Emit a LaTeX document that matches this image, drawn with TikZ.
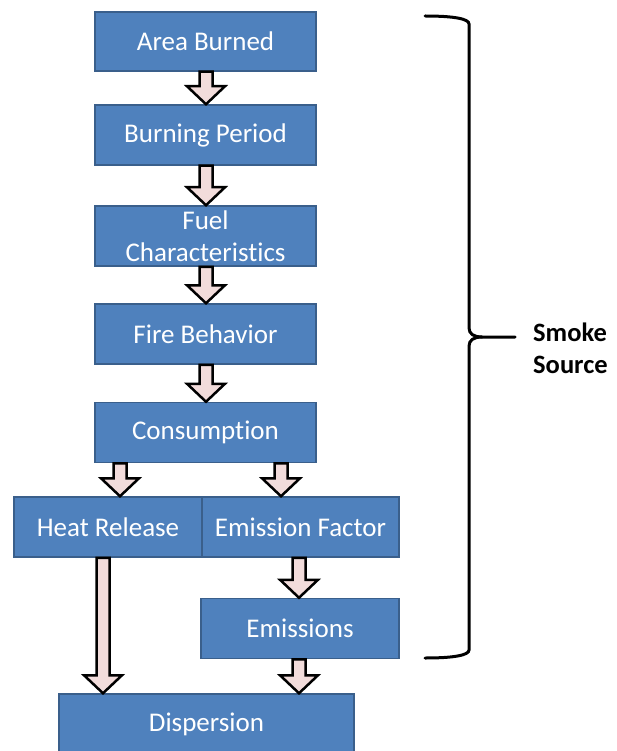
\documentclass[tikz,border=0pt]{standalone}
\usepackage{fontspec}
\setmainfont{Carlito}[Ligatures=NoCommon]
\usepackage{xcolor}
\usetikzlibrary{calc}

\definecolor{boxblue}{HTML}{4F81BD}
\definecolor{boxedge}{HTML}{3A5F8B}
\definecolor{arrowpink}{HTML}{F2DCDB}

% fat arrow: x position, from node, to node
\newcommand{\flowarrow}[3]{%
  \coordinate (top) at (#1,0 |- #2.south);
  \coordinate (tip) at (#1,0 |- #3.north);
  \draw[blockarr] ($(top)+(-6.5,0)$) -- ($(tip)+(-6.5,-18)$) -- ($(tip)+(-19,-18)$) -- (tip)
    -- ($(tip)+(19,-18)$) -- ($(tip)+(6.5,-18)$) -- ($(top)+(6.5,0)$) -- cycle;
}

\begin{document}
\begin{tikzpicture}[x=1pt,y=-1pt,
  stage/.style={draw=boxedge,line width=1.5pt,fill=boxblue,text=white,minimum height=60,
    inner sep=0pt,align=center,font=\fontsize{27}{32}\selectfont},
  blockarr/.style={draw=black,line width=2.5pt,fill=arrowpink,line join=miter},
  brace/.style={line width=3pt,line cap=round}]

\useasboundingbox (0,0) rectangle (617,751);
\clip (0,0) rectangle (617,751);

% source chain
\node[stage,minimum width=221,minimum height=59] (area) at (205.5,41.5) {Area Burned};
\node[stage,minimum width=221] (burn) at (205.5,135) {Burning Period};
\node[stage,minimum width=221] (fuel) at (205.5,236) {Fuel\\Characteristics};
\node[stage,minimum width=221] (fire) at (205.5,334) {Fire Behavior};
\node[stage,minimum width=221] (cons) at (205.5,432.5) {Consumption};

% split
\node[stage,minimum width=188] (heat) at (108,527) {Heat Release};
\node[stage,minimum width=197] (emfac) at (300.5,527) {Emission Factor};
\node[stage,minimum width=198] (emis) at (300,628.5) {Emissions};
\node[stage,minimum width=295] (disp) at (206.5,724) {Dispersion};

% arrows
\flowarrow{206}{area}{burn}
\flowarrow{206}{burn}{fuel}
\flowarrow{206}{fuel}{fire}
\flowarrow{206}{fire}{cons}
\flowarrow{120}{cons}{heat}
\flowarrow{281}{cons}{emfac}
\flowarrow{299}{emfac}{emis}
\flowarrow{103}{heat}{disp}
\flowarrow{299}{emis}{disp}

% brace
\draw[brace] (425,16) .. controls (455,16) and (469,19) .. (469,24) -- (469,328)
  .. controls (469,334) and (474,337) .. (482,337) -- (515,337);
\draw[brace] (482,337) .. controls (474,337) and (469,340) .. (469,346) -- (469,650)
  .. controls (469,655) and (455,658) .. (425,658);
\node[anchor=west,align=left,inner sep=0pt,font=\fontsize{26.5}{32}\selectfont\bfseries] (smoke) at (533,348) {Smoke\\Source};
\end{tikzpicture}
\end{document}
